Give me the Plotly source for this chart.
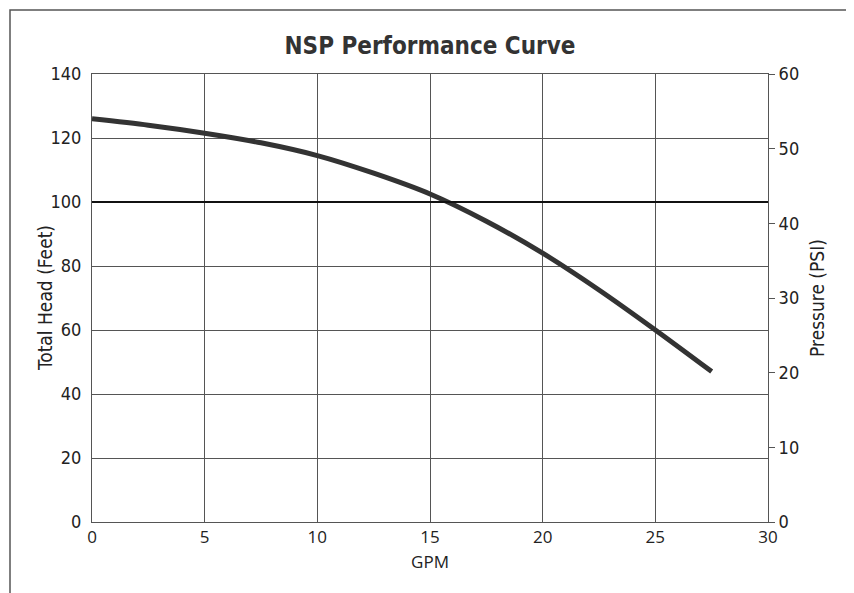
import plotly.graph_objects as go

# Data
gpm = [0, 2.5, 5, 7.5, 10, 12.5, 15, 17.5, 20, 22.5, 25, 27.5]
head_ft = [126, 124, 121.5, 118.5, 114.5, 109, 102.5, 94, 84, 72.5, 60, 47]
ref_head = 100
x_ticks = [0, 5, 10, 15, 20, 25, 30]
y_ticks = [0, 20, 40, 60, 80, 100, 120, 140]
psi_ticks = [0, 10, 20, 30, 40, 50, 60]

grid = "#555555"
cond = "DejaVu Sans Condensed, Liberation Sans Narrow, Arial Narrow, sans-serif"
myr = "Open Sans, sans-serif"

L, T, PW, PH = 84, 66, 676, 448
W, H = 854, 593

fig = go.Figure()
fig.add_trace(go.Scatter(x=gpm, y=head_ft, mode="lines",
                         line=dict(color="#333333", width=5, shape="spline", smoothing=0.8),
                         showlegend=False, hoverinfo="skip"))
# invisible trace to activate right axis
fig.add_trace(go.Scatter(x=[0], y=[0], yaxis="y2", mode="markers",
                         marker=dict(opacity=0), showlegend=False, hoverinfo="skip"))

fig.add_hline(y=ref_head, line=dict(color="#111111", width=2))

fig.update_layout(
    width=W, height=H,
    margin=dict(l=L, r=W - L - PW, t=T, b=H - T - PH),
    paper_bgcolor="white", plot_bgcolor="white",
    title=dict(text="<b>NSP Performance Curve</b>", x=(L + PW / 2) / W, xanchor="center",
               y=1 - 38 / H, yanchor="middle",
               font=dict(family=cond, size=24, color="#333333")),
    xaxis=dict(range=[0, 30], tickvals=x_ticks, showgrid=True, gridcolor=grid,
               gridwidth=1, showline=True, linecolor=grid, linewidth=1, mirror=True,
               zeroline=False, ticks="", ticklabelstandoff=0,
               tickfont=dict(family=myr, size=17, color="#222222"),
               title=dict(text="GPM", standoff=8,
                          font=dict(family=myr, size=17, color="#222222"))),
    yaxis=dict(range=[0, 140], tickvals=y_ticks, showgrid=True, gridcolor=grid,
               gridwidth=1, showline=True, linecolor=grid, linewidth=1, mirror=True,
               zeroline=False, ticks="", ticklabelstandoff=6,
               tickfont=dict(family=cond, size=18, color="#222222")),
    yaxis2=dict(range=[0, 60], tickvals=psi_ticks, overlaying="y", side="right",
                showgrid=False, zeroline=False, showline=False,
                ticks="outside", ticklen=6, tickcolor=grid, tickwidth=1,
                ticklabelstandoff=0,
                tickfont=dict(family=cond, size=18, color="#222222"),
                title=dict(text="Pressure (PSI)", standoff=12,
                           font=dict(family=cond, size=19, color="#222222"))),
)

# left axis title placed as annotation for exact position
fig.add_annotation(text="Total Head (Feet)", xref="paper", yref="paper",
                   x=(45 - 92) / PW, y=0.5, xanchor="center", yanchor="middle",
                   textangle=-90, showarrow=False,
                   font=dict(family=cond, size=19, color="#222222"))

# outer frame
fig.add_shape(type="rect", xref="paper", yref="paper",
              x0=(10 - 92) / PW, x1=(851 - 92) / PW,
              y0=-0.3, y1=1 + 64 / PH,
              line=dict(color="#555555", width=1.5), fillcolor="rgba(0,0,0,0)",
              layer="below")

fig.write_html("out.html")
